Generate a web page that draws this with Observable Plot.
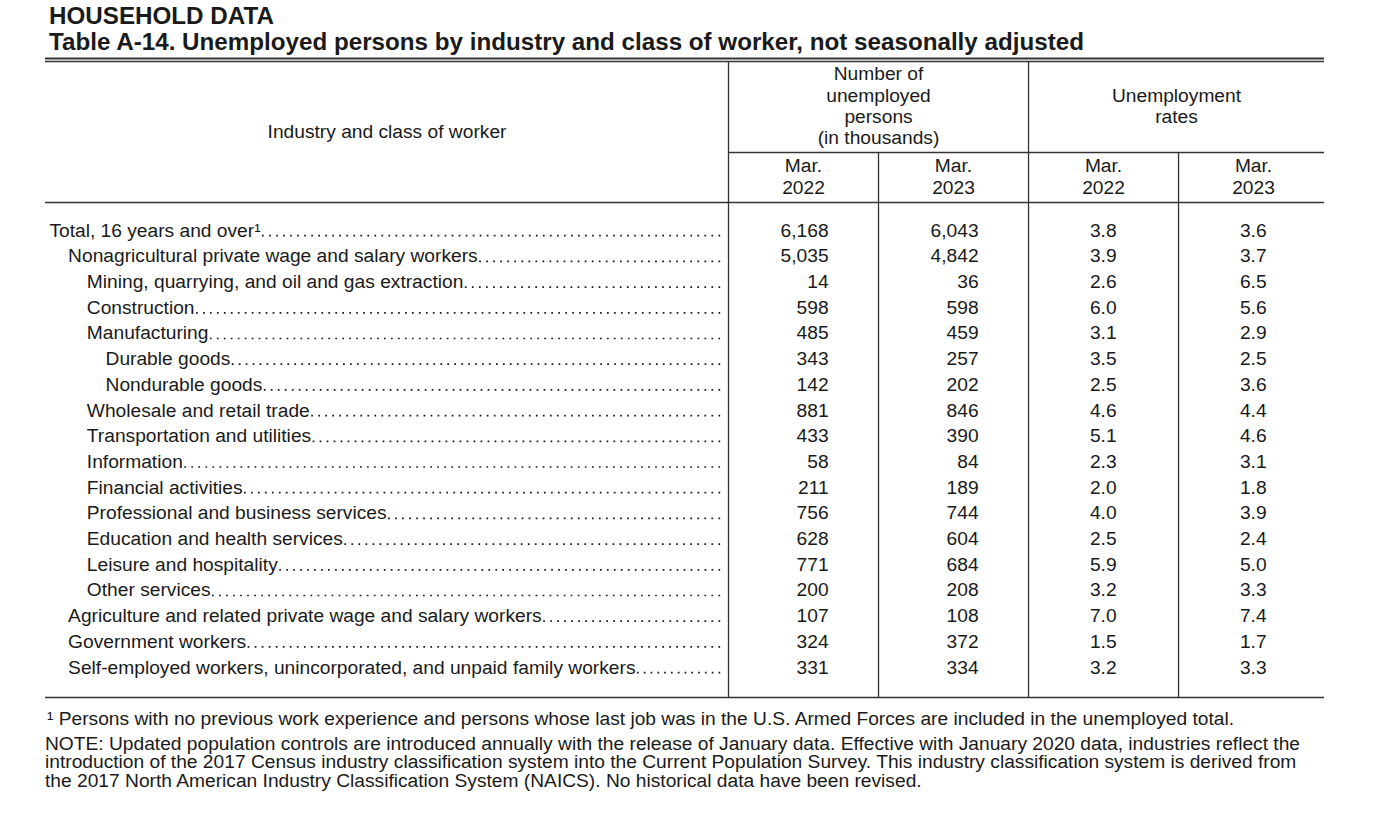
<!DOCTYPE html>
<html><head><meta charset="utf-8">
<script src="https://cdn.jsdelivr.net/npm/d3@7"></script>
<script src="https://cdn.jsdelivr.net/npm/@observablehq/plot@0.6"></script>
<style>
body{margin:0;background:#fff;font-family:"Liberation Sans",Arial,sans-serif;color:#1a1a1a}
#wrap{position:relative;width:1378px;height:830px;overflow:hidden}
#chart{position:absolute;left:0;top:0}
.t{position:absolute;left:49px;font-weight:bold;font-size:24.2px;line-height:24px;white-space:nowrap}
.n{position:absolute;left:45px;font-size:19.2px;line-height:19px;white-space:nowrap}
</style></head><body>
<div id="wrap">
<div id="chart"></div>
<div class="t" style="top:3.5px">HOUSEHOLD DATA</div>
<div class="t" style="top:29.5px">Table A-14. Unemployed persons by industry and class of worker, not seasonally adjusted</div>
<div class="n" style="top:708.5px;left:47px">¹ Persons with no previous work experience and persons whose last job was in the U.S. Armed Forces are included in the unemployed total.</div>
<div class="n" style="top:733.5px">NOTE: Updated population controls are introduced annually with the release of January data. Effective with January 2020 data, industries reflect the</div>
<div class="n" style="top:752.2px">introduction of the 2017 Census industry classification system into the Current Population Survey. This industry classification system is derived from</div>
<div class="n" style="top:771px">the 2017 North American Industry Classification System (NAICS). No historical data have been revised.</div>
</div>
<script>
// ---- data ----
const rowLabels = [
  "Total, 16 years and over¹",
  "Nonagricultural private wage and salary workers",
  "Mining, quarrying, and oil and gas extraction",
  "Construction",
  "Manufacturing",
  "Durable goods",
  "Nondurable goods",
  "Wholesale and retail trade",
  "Transportation and utilities",
  "Information",
  "Financial activities",
  "Professional and business services",
  "Education and health services",
  "Leisure and hospitality",
  "Other services",
  "Agriculture and related private wage and salary workers",
  "Government workers",
  "Self-employed workers, unincorporated, and unpaid family workers"
];
const rowLevels = [0,1,2,2,2,3,3,2,2,2,2,2,2,2,2,1,1,1];
const unemployedMar2022 = [6168,5035,14,598,485,343,142,881,433,58,211,756,628,771,200,107,324,331];
const unemployedMar2023 = [6043,4842,36,598,459,257,202,846,390,84,189,744,604,684,208,108,372,334];
const rateMar2022 = [3.8,3.9,2.6,6.0,3.1,3.5,2.5,4.6,5.1,2.3,2.0,4.0,2.5,5.9,3.2,7.0,1.5,3.2];
const rateMar2023 = [3.6,3.7,6.5,5.6,2.9,2.5,3.6,4.4,4.6,3.1,1.8,3.9,2.4,5.0,3.3,7.4,1.7,3.3];
const columnMonths = ["Mar.","Mar.","Mar.","Mar."];
const columnYears = ["2022","2023","2022","2023"];
const groupLabels = ["Number of\nunemployed\npersons\n(in thousands)", "Unemployment\nrates"];
const stubHeader = "Industry and class of worker";

// ---- layout (table units: one data column = 1 unit, one row = 1 unit) ----
const FONT = "'Liberation Sans', Arial, sans-serif";
const FS = 19.2;
const stubLeft = -4.553, tableRight = 3.973;
const labelX0 = -4.527, indentStep = 0.1247, leaderEnd = -0.052;
const ink = "#1a1a1a", ruleColor = "#333";

const columns = [
  {values: unemployedMar2022, fmt: d3.format(","), off: 0.667},
  {values: unemployedMar2023, fmt: d3.format(","), off: 0.667},
  {values: rateMar2022, fmt: d3.format(".1f"), off: 0.587},
  {values: rateMar2023, fmt: d3.format(".1f"), off: 0.587}
];
const pxPerUnit = 150;
const ctx = document.createElement("canvas").getContext("2d");
ctx.font = `${FS}px ${FONT}`;
const rows = rowLabels.map((label, i) => {
  const x = labelX0 + rowLevels[i] * indentStep;
  return {row: i, label, level: rowLevels[i], x, end: x + (ctx.measureText(label).width + 2) / pxPerUnit};
});
const cells = columns.flatMap((c, ci) => rows.map(r => ({row: r.row, text: c.fmt(c.values[r.row]), x: ci + c.off})));
const heads = columnYears.map((y, i) => ({col: i, text: `${columnMonths[i]}\n${y}`}));
const groups = [{text: groupLabels[0], from: 0, to: 2}, {text: groupLabels[1], from: 2, to: tableRight}];

// dot leaders: one dotted rule per row, spacing adjusted to fill label end → stub edge
const dotSize = 1.7, dotPitch = 7;
const leaders = rows.filter(r => r.end < leaderEnd).map(r => {
  const len = (leaderEnd - r.end) * pxPerUnit;
  const n = Math.max(1, Math.round((len - dotSize) / dotPitch));
  const pitch = (len - dotSize) / n;
  return Plot.ruleY([r], {y: "row", x1: "end", x2: leaderEnd, dy: 5.2, stroke: ink, strokeWidth: 1.7,
    strokeDasharray: `${dotSize},${(pitch - dotSize).toFixed(3)}`});
});

const yTopRule = -6.693, yTopRule2 = -6.576, yMid = -3.035, yHeadBottom = -1.089, yBottom = 18.171;

const chart = Plot.plot({
  width: 1378, height: 830,
  marginLeft: 45, marginRight: 54, marginTop: 0, marginBottom: 0,
  x: {type: "linear", domain: [stubLeft, tableRight], range: [45, 1324], axis: null},
  y: {type: "linear", domain: [0, 17], range: [230, 666.9], axis: null},
  style: {fontFamily: FONT, fontSize: FS + "px", color: ink, background: "transparent", overflow: "visible"},
  marks: [
    Plot.ruleY([yTopRule], {stroke: ruleColor, strokeWidth: 1.8}),
    Plot.ruleY([yTopRule2, yHeadBottom, yBottom], {stroke: ruleColor, strokeWidth: 1.3}),
    Plot.ruleY([{y: yMid, x1: 0, x2: tableRight}], {y: "y", x1: "x1", x2: "x2", stroke: ruleColor, strokeWidth: 1.3}),
    Plot.ruleX([{x: 0, y1: yTopRule2, y2: yBottom}, {x: 2, y1: yTopRule2, y2: yBottom}, {x: 1, y1: yMid, y2: yBottom}, {x: 3, y1: yMid, y2: yBottom}],
      {x: "x", y1: "y1", y2: "y2", stroke: ruleColor, strokeWidth: 1.3}),
    Plot.text([stubHeader], {x: (stubLeft + 0) / 2, y: -3.852, text: d => d, fill: ink, fontSize: FS}),
    Plot.text(groups, {x: d => (d.from + d.to) / 2, y: -4.864, text: "text", lineHeight: 1.11, fill: ink, fontSize: FS}),
    Plot.text(heads, {x: d => d.col + 0.5, y: -2.14, text: "text", lineHeight: 1.15, fill: ink, fontSize: FS}),
    Plot.text(rows, {x: "x", y: "row", text: "label", textAnchor: "start", fill: ink, fontSize: FS}),
    ...leaders,
    Plot.text(cells, {x: "x", y: "row", text: "text", textAnchor: "end", fill: ink, fontSize: FS})
  ]
});
document.getElementById("chart").appendChild(chart);
</script>
</body></html>
